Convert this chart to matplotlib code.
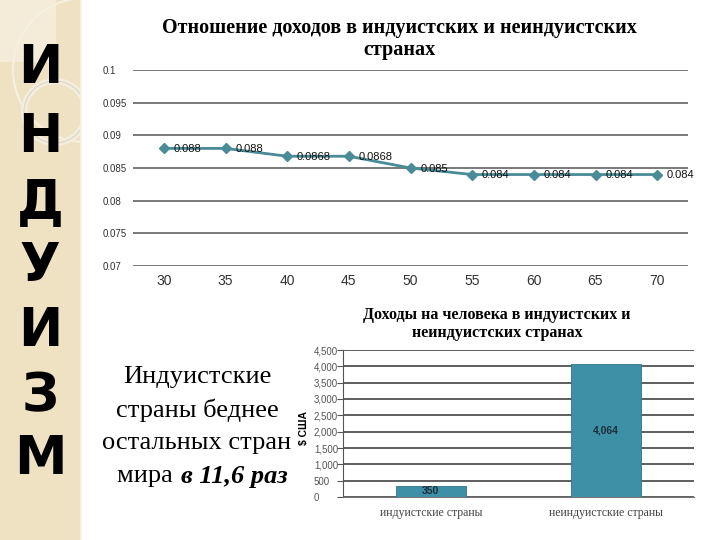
import matplotlib.pyplot as plt
from matplotlib.patches import Rectangle, Circle

# data
years = [30, 35, 40, 45, 50, 55, 60, 65, 70]
ratio = [0.088, 0.088, 0.0868, 0.0868, 0.085, 0.084, 0.084, 0.084, 0.084]
ratio_labels = ['0.088', '0.088', '0.0868', '0.0868', '0.085', '0.084', '0.084', '0.084', '0.084']
ratio_ticks = [0.07, 0.075, 0.08, 0.085, 0.09, 0.095, 0.1]
ratio_tick_labels = ['0.07', '0.075', '0.08', '0.085', '0.09', '0.095', '0.1']

groups = ['индуистские страны', 'неиндуистские страны']
income = [350, 4064]
income_labels = ['350', '4,064']
income_ticks = [0, 500, 1000, 1500, 2000, 2500, 3000, 3500, 4000, 4500]

side_letters = ['И', 'Н', 'Д', 'У', 'И', 'З', 'М']
side_y = [68, 137, 203, 266, 331, 396, 459]

line_color = '#4a8b98'
bar_color = '#3d90a6'

fig = plt.figure(figsize=(7.2, 5.4), dpi=100)
fig.patch.set_facecolor('white')

# background / decorative strip, pixel coordinates
bg = fig.add_axes([0, 0, 1, 1], zorder=0)
bg.set_xlim(0, 720)
bg.set_ylim(540, 0)
bg.axis('off')
strip = Rectangle((0, 0), 80, 540, facecolor='#eee2c3', edgecolor='none')
bg.add_patch(strip)
bg.add_patch(Rectangle((0, 0), 56, 62, facecolor='#f4ecd8', edgecolor='none'))
bg.plot([80.5, 80.5], [0, 540], color='#f7f1e2', lw=1.5)
for c in [Circle((85, 70), 72, fill=False, ec='#f6f0e0', lw=1.6),
          Circle((55, 112), 31, fill=False, ec='#f3ede0', lw=4.5),
          Circle((55, 112), 31, fill=False, ec='#d9ceb5', lw=0.6)]:
    bg.add_patch(c)
    c.set_clip_path(strip)
for ch, y in zip(side_letters, side_y):
    bg.text(40, y, ch, fontsize=38, fontweight='bold', family='DejaVu Sans',
            ha='center', va='center', color='black')

# left caption
serif = 'Liberation Serif'
cap_lines = ['Индуистские', 'страны беднее', 'остальных стран']
for i, t in enumerate(cap_lines):
    bg.text(197, 377 + 33 * i, t, fontsize=19, family=serif, ha='center', va='center')
bg.text(179, 476, 'мира ', fontsize=19, family=serif, ha='right', va='center')
bg.text(181, 476, 'в 11,6 раз', fontsize=19, family=serif, ha='left', va='center',
        fontweight='bold', style='italic')

# line chart
ax = fig.add_axes([133 / 720, 1 - 266 / 540, 555 / 720, 196 / 540], zorder=2)
ax.patch.set_alpha(0)
ax.plot(years, ratio, color=line_color, lw=2, marker='D', markersize=5.5,
        markerfacecolor=line_color, markeredgecolor=line_color, zorder=3)
for x, y, s in zip(years, ratio, ratio_labels):
    ax.annotate(s, (x, y), xytext=(7, -0.5), textcoords='offset points',
                fontsize=8, family='Liberation Sans', va='center', ha='left',
                color='#111111', zorder=4)
ax.set_xlim(27.5, 72.5)
ax.set_ylim(0.07, 0.1)
ax.set_xticks(years)
ax.set_xticklabels([str(y) for y in years])
ax.set_yticks(ratio_ticks)
ax.set_yticklabels(ratio_tick_labels)
ax.yaxis.grid(True, color='#555555', lw=1.1)
ax.set_axisbelow(True)
for sp in ax.spines.values():
    sp.set_visible(False)
ax.tick_params(axis='both', length=0)
ax.tick_params(axis='x', labelsize=10, colors='#333333', pad=6)
ax.tick_params(axis='y', labelsize=7, colors='#333333', pad=22)
for lab in ax.get_xticklabels():
    lab.set_family('Liberation Sans')
for lab in ax.get_yticklabels():
    lab.set_family('Liberation Sans')
    lab.set_horizontalalignment('left')
fig.text(399 / 720, 1 - 39 / 540,
         'Отношение доходов в индуистских и неиндуистских\nстранах',
         fontsize=14.5, fontweight='bold', family=serif, ha='center', va='center',
         linespacing=1.15)

# bar chart
bx = fig.add_axes([343 / 720, 1 - 497 / 540, 351 / 720, 147 / 540], zorder=2)
bx.patch.set_alpha(0)
xpos = list(range(len(groups)))
bars = bx.bar(xpos, income, width=0.4, color=bar_color, edgecolor='#2f7487', lw=0.6, zorder=3)
for b, s in zip(bars, income_labels):
    bx.text(b.get_x() + b.get_width() / 2, b.get_height() / 2, s, ha='center', va='center',
            fontsize=7.5, fontweight='bold', family='Liberation Sans', color='#1d2d3a', zorder=4)
bx.set_xlim(-0.5, 1.5)
bx.set_ylim(0, 4500)
bx.set_yticks(income_ticks)
bx.set_yticklabels([f'{v:,}' for v in income_ticks])
bx.set_xticks(xpos)
bx.set_xticklabels(groups)
bx.yaxis.grid(True, color='#333333', lw=1.1)
bx.set_axisbelow(True)
bx.spines['top'].set_visible(False)
bx.spines['right'].set_visible(False)
bx.spines['left'].set_color('#555555')
bx.spines['bottom'].set_color('#777777')
bx.tick_params(axis='y', length=4, color='#555555', labelsize=7, labelcolor='#555555', pad=17)
bx.tick_params(axis='x', length=0, labelsize=8.5, labelcolor='#444444', pad=7)
for lab in bx.get_yticklabels():
    lab.set_family('Liberation Sans')
    lab.set_horizontalalignment('left')
for lab in bx.get_xticklabels():
    lab.set_family(serif)
fig.text(304 / 720, 1 - 428 / 540, '$ США', rotation=90, fontsize=7.5, fontweight='bold',
         family='Liberation Sans', ha='center', va='center', zorder=3)
fig.text(497 / 720, 1 - 324 / 540,
         'Доходы на человека в индуистских и\nнеиндуистских странах',
         fontsize=11.5, fontweight='bold', family=serif, ha='center', va='center',
         linespacing=1.15)

fig.savefig('out.png', dpi=100)
